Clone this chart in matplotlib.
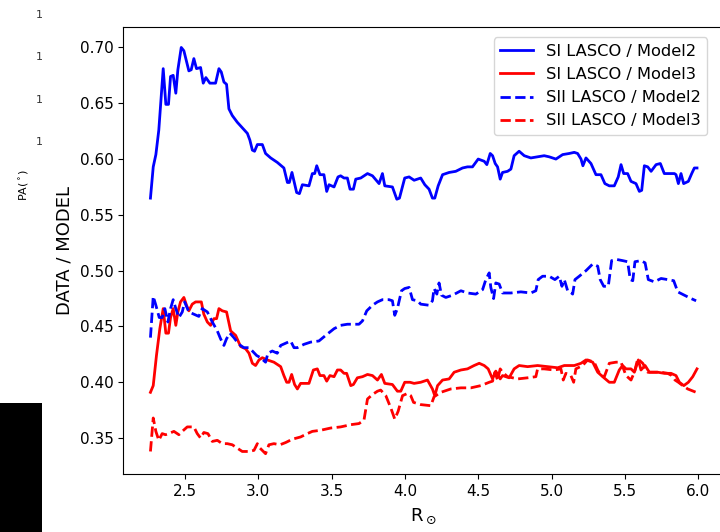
"""Ratio DATA / MODEL of the LASCO profiles vs heliocentric distance."""

import matplotlib

matplotlib.use("Agg")
import matplotlib.pyplot as plt
from matplotlib.patches import Rectangle

# SI LASCO / Model2
r_si_m2 = [2.264, 2.283, 2.301, 2.321, 2.351, 2.369, 2.387, 2.401, 2.419, 2.437, 2.451, 2.474,
           2.492, 2.526, 2.542, 2.560, 2.578, 2.606, 2.624, 2.642, 2.669, 2.708, 2.731, 2.747,
           2.765, 2.783, 2.799, 2.822, 2.856, 2.890, 2.925, 2.942, 2.959, 2.974, 2.993, 3.027,
           3.049, 3.084, 3.129, 3.174, 3.198, 3.211, 3.229, 3.261, 3.280, 3.300, 3.345, 3.368,
           3.384, 3.398, 3.420, 3.447, 3.466, 3.482, 3.516, 3.543, 3.561, 3.584, 3.607, 3.625,
           3.648, 3.664, 3.698, 3.744, 3.778, 3.823, 3.846, 3.862, 3.914, 3.944, 3.962, 3.998,
           4.028, 4.062, 4.107, 4.135, 4.164, 4.187, 4.203, 4.226, 4.256, 4.301, 4.346, 4.392,
           4.426, 4.460, 4.499, 4.540, 4.558, 4.581, 4.597, 4.615, 4.631, 4.649, 4.665, 4.699,
           4.722, 4.744, 4.778, 4.813, 4.858, 4.904, 4.949, 4.983, 5.029, 5.075, 5.120, 5.154,
           5.177, 5.200, 5.213, 5.234, 5.268, 5.302, 5.336, 5.363, 5.393, 5.427, 5.454, 5.473,
           5.491, 5.518, 5.541, 5.575, 5.598, 5.614, 5.632, 5.655, 5.678, 5.712, 5.741, 5.768,
           5.802, 5.837, 5.848, 5.864, 5.882, 5.900, 5.932, 5.955, 5.973, 5.991]
v_si_m2 = [0.565, 0.593, 0.604, 0.626, 0.681, 0.649, 0.649, 0.674, 0.675, 0.659, 0.680, 0.700,
           0.697, 0.679, 0.680, 0.690, 0.681, 0.682, 0.668, 0.673, 0.668, 0.668, 0.681, 0.678,
           0.669, 0.667, 0.645, 0.639, 0.633, 0.628, 0.623, 0.617, 0.608, 0.607, 0.613, 0.613,
           0.605, 0.601, 0.597, 0.592, 0.579, 0.579, 0.588, 0.570, 0.569, 0.577, 0.576, 0.587,
           0.587, 0.594, 0.586, 0.586, 0.571, 0.577, 0.575, 0.584, 0.585, 0.583, 0.583, 0.573,
           0.573, 0.582, 0.583, 0.587, 0.585, 0.578, 0.587, 0.576, 0.575, 0.564, 0.565, 0.583,
           0.584, 0.581, 0.583, 0.577, 0.573, 0.565, 0.565, 0.576, 0.586, 0.588, 0.589, 0.592,
           0.593, 0.593, 0.600, 0.598, 0.595, 0.605, 0.603, 0.596, 0.593, 0.582, 0.588, 0.589,
           0.591, 0.603, 0.607, 0.603, 0.601, 0.602, 0.603, 0.602, 0.600, 0.604, 0.605, 0.606,
           0.605, 0.600, 0.594, 0.601, 0.596, 0.586, 0.586, 0.578, 0.576, 0.576, 0.584, 0.595,
           0.587, 0.587, 0.580, 0.578, 0.571, 0.572, 0.594, 0.593, 0.589, 0.595, 0.596, 0.587,
           0.587, 0.587, 0.586, 0.578, 0.587, 0.578, 0.580, 0.587, 0.592, 0.592]

# SI LASCO / Model3
r_si_m3 = [2.264, 2.283, 2.305, 2.328, 2.351, 2.369, 2.387, 2.401, 2.419, 2.437, 2.451, 2.469,
           2.492, 2.510, 2.526, 2.549, 2.572, 2.594, 2.611, 2.628, 2.652, 2.674, 2.697, 2.715,
           2.731, 2.754, 2.783, 2.811, 2.845, 2.879, 2.913, 2.936, 2.959, 2.981, 3.004, 3.027,
           3.061, 3.106, 3.152, 3.174, 3.193, 3.209, 3.227, 3.247, 3.266, 3.288, 3.316, 3.345,
           3.375, 3.402, 3.420, 3.447, 3.466, 3.488, 3.516, 3.539, 3.561, 3.584, 3.602, 3.630,
           3.648, 3.675, 3.710, 3.744, 3.778, 3.812, 3.839, 3.862, 3.914, 3.948, 3.971, 3.998,
           4.034, 4.062, 4.107, 4.153, 4.187, 4.203, 4.222, 4.256, 4.301, 4.335, 4.381, 4.426,
           4.471, 4.506, 4.540, 4.567, 4.597, 4.619, 4.649, 4.665, 4.710, 4.744, 4.778, 4.836,
           4.904, 4.972, 5.041, 5.086, 5.154, 5.200, 5.234, 5.280, 5.314, 5.348, 5.393, 5.427,
           5.461, 5.484, 5.507, 5.541, 5.564, 5.591, 5.609, 5.637, 5.666, 5.723, 5.768, 5.814,
           5.848, 5.871, 5.901, 5.932, 5.962, 5.991]
v_si_m3 = [0.391, 0.397, 0.424, 0.448, 0.466, 0.444, 0.444, 0.458, 0.466, 0.451, 0.463, 0.472,
           0.476, 0.469, 0.464, 0.470, 0.472, 0.472, 0.472, 0.461, 0.454, 0.451, 0.457, 0.457,
           0.466, 0.464, 0.463, 0.446, 0.442, 0.432, 0.430, 0.426, 0.417, 0.415, 0.420, 0.422,
           0.420, 0.418, 0.414, 0.406, 0.400, 0.400, 0.407, 0.398, 0.394, 0.399, 0.399, 0.399,
           0.411, 0.412, 0.406, 0.406, 0.401, 0.406, 0.405, 0.411, 0.411, 0.408, 0.408, 0.397,
           0.398, 0.404, 0.405, 0.407, 0.406, 0.402, 0.407, 0.399, 0.398, 0.392, 0.392, 0.400,
           0.400, 0.399, 0.400, 0.402, 0.394, 0.388, 0.397, 0.402, 0.403, 0.409, 0.411, 0.412,
           0.415, 0.417, 0.415, 0.412, 0.403, 0.410, 0.403, 0.406, 0.404, 0.412, 0.415, 0.414,
           0.415, 0.414, 0.413, 0.415, 0.415, 0.417, 0.420, 0.418, 0.409, 0.405, 0.400, 0.400,
           0.411, 0.415, 0.412, 0.412, 0.409, 0.420, 0.411, 0.415, 0.409, 0.409, 0.408, 0.408,
           0.406, 0.400, 0.397, 0.400, 0.405, 0.412]

# SII LASCO / Model2
r_sii_m2 = [2.264, 2.283, 2.301, 2.324, 2.344, 2.362, 2.383, 2.401, 2.419, 2.437, 2.458, 2.481,
            2.497, 2.526, 2.560, 2.594, 2.617, 2.652, 2.686, 2.720, 2.742, 2.765, 2.783, 2.806,
            2.833, 2.867, 2.901, 2.936, 2.959, 2.988, 3.015, 3.049, 3.065, 3.095, 3.129, 3.152,
            3.186, 3.220, 3.243, 3.266, 3.311, 3.357, 3.413, 3.459, 3.516, 3.561, 3.607, 3.652,
            3.686, 3.710, 3.739, 3.778, 3.812, 3.846, 3.891, 3.914, 3.930, 3.948, 3.976, 3.998,
            4.028, 4.051, 4.085, 4.107, 4.164, 4.187, 4.198, 4.217, 4.232, 4.249, 4.278, 4.324,
            4.381, 4.426, 4.483, 4.529, 4.551, 4.574, 4.585, 4.604, 4.619, 4.642, 4.665, 4.722,
            4.790, 4.858, 4.892, 4.908, 4.938, 4.983, 5.022, 5.052, 5.070, 5.086, 5.109, 5.127,
            5.143, 5.159, 5.188, 5.234, 5.280, 5.314, 5.331, 5.355, 5.386, 5.409, 5.445, 5.484,
            5.518, 5.536, 5.553, 5.568, 5.609, 5.637, 5.659, 5.700, 5.746, 5.791, 5.832, 5.860,
            5.905, 5.951, 5.985]
v_sii_m2 = [0.440, 0.477, 0.469, 0.458, 0.458, 0.466, 0.454, 0.466, 0.474, 0.466, 0.458, 0.463,
            0.472, 0.463, 0.461, 0.459, 0.466, 0.463, 0.454, 0.446, 0.439, 0.433, 0.439, 0.444,
            0.440, 0.434, 0.431, 0.431, 0.428, 0.424, 0.422, 0.418, 0.426, 0.428, 0.426, 0.433,
            0.435, 0.437, 0.431, 0.431, 0.434, 0.436, 0.437, 0.442, 0.448, 0.451, 0.452, 0.452,
            0.452, 0.455, 0.464, 0.469, 0.472, 0.474, 0.474, 0.473, 0.460, 0.466, 0.482, 0.484,
            0.485, 0.474, 0.473, 0.470, 0.469, 0.473, 0.484, 0.479, 0.489, 0.478, 0.476, 0.478,
            0.482, 0.480, 0.479, 0.483, 0.492, 0.498, 0.485, 0.475, 0.489, 0.488, 0.480, 0.480,
            0.481, 0.480, 0.482, 0.492, 0.495, 0.495, 0.492, 0.495, 0.486, 0.492, 0.482, 0.481,
            0.479, 0.492, 0.495, 0.500, 0.506, 0.504, 0.492, 0.486, 0.486, 0.509, 0.510, 0.509,
            0.508, 0.492, 0.491, 0.508, 0.509, 0.507, 0.492, 0.490, 0.493, 0.492, 0.491, 0.481,
            0.478, 0.475, 0.473]

# SII LASCO / Model3
r_sii_m3 = [2.264, 2.283, 2.301, 2.321, 2.344, 2.367, 2.389, 2.424, 2.458, 2.481, 2.515, 2.560,
            2.583, 2.606, 2.628, 2.656, 2.686, 2.720, 2.754, 2.788, 2.822, 2.856, 2.890, 2.935,
            2.970, 2.993, 3.011, 3.034, 3.049, 3.072, 3.106, 3.147, 3.186, 3.232, 3.288, 3.334,
            3.368, 3.425, 3.493, 3.561, 3.630, 3.686, 3.720, 3.744, 3.778, 3.812, 3.834, 3.869,
            3.903, 3.930, 3.953, 3.983, 4.017, 4.039, 4.058, 4.107, 4.176, 4.198, 4.244, 4.312,
            4.381, 4.449, 4.517, 4.574, 4.597, 4.613, 4.631, 4.649, 4.665, 4.699, 4.768, 4.836,
            4.892, 4.904, 4.949, 5.017, 5.063, 5.079, 5.097, 5.131, 5.150, 5.165, 5.211, 5.245,
            5.290, 5.314, 5.336, 5.359, 5.393, 5.439, 5.473, 5.507, 5.541, 5.564, 5.587, 5.621,
            5.655, 5.700, 5.746, 5.791, 5.819, 5.841, 5.864, 5.894, 5.928, 5.985]
v_sii_m3 = [0.338, 0.368, 0.356, 0.348, 0.354, 0.353, 0.354, 0.356, 0.353, 0.356, 0.360, 0.360,
            0.354, 0.350, 0.355, 0.354, 0.347, 0.348, 0.345, 0.345, 0.344, 0.341, 0.338, 0.338,
            0.339, 0.345, 0.341, 0.338, 0.336, 0.344, 0.345, 0.344, 0.346, 0.349, 0.351, 0.354,
            0.356, 0.357, 0.359, 0.360, 0.362, 0.363, 0.366, 0.385, 0.389, 0.392, 0.393, 0.388,
            0.377, 0.367, 0.374, 0.388, 0.390, 0.388, 0.382, 0.380, 0.379, 0.387, 0.391, 0.394,
            0.395, 0.395, 0.397, 0.400, 0.401, 0.409, 0.402, 0.412, 0.409, 0.405, 0.403, 0.404,
            0.405, 0.412, 0.412, 0.411, 0.412, 0.402, 0.408, 0.406, 0.400, 0.412, 0.415, 0.420,
            0.418, 0.411, 0.406, 0.405, 0.417, 0.418, 0.418, 0.406, 0.402, 0.409, 0.421, 0.417,
            0.409, 0.409, 0.409, 0.408, 0.406, 0.402, 0.400, 0.397, 0.394, 0.391]

fig = plt.figure(figsize=(7.2, 5.32), dpi=100)

# leftovers of a neighbouring panel cropped into the frame
for y in (0.972, 0.893, 0.812, 0.733):
    fig.text(0.054, y, "1", fontsize=8, color="0.2", ha="center", va="center")
fig.text(0.034, 0.652, r"PA($^\circ$)", fontsize=8, rotation=90, ha="center", va="center")
fig.patches.append(Rectangle((0, 0), 0.058, 0.2425, transform=fig.transFigure,
                             facecolor="black", edgecolor="none"))

ax = fig.add_axes([0.171, 0.109, 0.835, 0.840])
ax.plot(r_si_m2, v_si_m2, "-", color="blue", lw=2, label="SI LASCO / Model2")
ax.plot(r_si_m3, v_si_m3, "-", color="red", lw=2, label="SI LASCO / Model3")
ax.plot(r_sii_m2, v_sii_m2, "--", color="blue", lw=2, label="SII LASCO / Model2")
ax.plot(r_sii_m3, v_sii_m3, "--", color="red", lw=2, label="SII LASCO / Model3")

ax.set_xlabel(r"R$_\odot$", fontsize=13, labelpad=6)
ax.set_ylabel("DATA / MODEL", fontsize=13)
ax.tick_params(labelsize=11)
ax.legend(loc="upper right", fontsize=11.7, bbox_to_anchor=(0.985, 0.995))

fig.savefig("out.png", dpi=100)
